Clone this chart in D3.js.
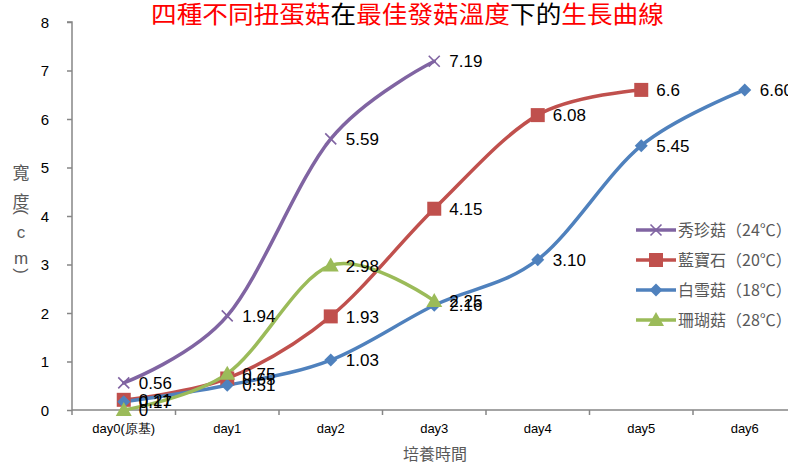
<!DOCTYPE html>
<html>
<head>
<meta charset="utf-8">
<script src="https://cdn.jsdelivr.net/npm/d3@7"></script>
<style>
  html, body { margin: 0; padding: 0; background: #fff; }
  svg { display: block; }
</style>
</head>
<body>
<svg id="chart" width="788" height="463"></svg>
<script>
// ---- data ----
const categories = ["day0(原基)", "day1", "day2", "day3", "day4", "day5", "day6"];
const yTicks = [0, 1, 2, 3, 4, 5, 6, 7, 8];
const seriesNames = ["秀珍菇（24℃）", "藍寶石（20℃）", "白雪菇（18℃）", "珊瑚菇（28℃）"];
const xiuzhen = [0.56, 1.94, 5.59, 7.19];
const lanbaoshi = [0.21, 0.65, 1.93, 4.15, 6.08, 6.6];
const baixue = [0.17, 0.51, 1.03, 2.16, 3.10, 5.45, 6.60];
const shanhu = [0, 0.75, 2.98, 2.25];
const labelsXiuzhen = ["0.56", "1.94", "5.59", "7.19"];
const labelsLanbaoshi = ["0.21", "0.65", "1.93", "4.15", "6.08", "6.6"];
const labelsBaixue = ["0.17", "0.51", "1.03", "2.16", "3.10", "5.45", "6.60"];
const labelsShanhu = ["0", "0.75", "2.98", "2.25"];

const colors = ["#8064A2", "#C0504D", "#4F81BD", "#9BBB59"];
const markers = ["x", "square", "diamond", "triangle"];
const seriesValues = [xiuzhen, lanbaoshi, baixue, shanhu];
const seriesLabels = [labelsXiuzhen, labelsLanbaoshi, labelsBaixue, labelsShanhu];

// ---- layout ----
const svg = d3.select("#chart");
const left = 72, bandW = 103.5, y0 = 410, y8 = 22;
const x = d3.scaleBand().domain(categories).range([left, left + bandW * categories.length]).paddingInner(0).paddingOuter(0);
const cx = d => x(d) + x.bandwidth() / 2;
const y = d3.scaleLinear().domain([0, 8]).range([y0, y8]);

const axisColor = "#868686";
const font = "'Liberation Sans', Arial, sans-serif";
const cjk = "'Noto Sans CJK TC', 'Noto Sans CJK SC', sans-serif";

// Title
const title = svg.append("text")
  .attr("x", 0).attr("y", 23)
  .attr("font-family", cjk).attr("font-size", 24).attr("font-weight", 400);
[["四種不同扭蛋菇", "#FF0000"], ["在", "#000"], ["最佳發菇溫度", "#FF0000"], ["下的", "#000"], ["生長曲線", "#FF0000"]]
  .forEach(([t, c]) => title.append("tspan").attr("fill", c).text(t));
const tw = title.node().getComputedTextLength();
const targetW = 513;
title.attr("transform", `translate(151,0) scale(${targetW / tw},1)`);

// Y axis
const yAxis = d3.axisLeft(y).tickValues(yTicks).tickSize(5).tickPadding(18).tickFormat(d3.format("d"));
const gy = svg.append("g").attr("transform", `translate(${left},0)`).call(yAxis);
gy.select(".domain").attr("stroke", axisColor).attr("stroke-width", 1.5).attr("d", `M-5,${y8}H0V${y0}`);
gy.selectAll(".tick line").attr("stroke", axisColor).attr("stroke-width", 1.5);
gy.selectAll(".tick text").attr("font-family", font).attr("font-size", 15).attr("fill", "#000").attr("dy", "0.35em");

// X axis
const xAxis = d3.axisBottom(x).tickSize(0).tickPadding(14);
const gx = svg.append("g").attr("transform", `translate(0,${y0})`).call(xAxis);
gx.select(".domain").attr("stroke", axisColor).attr("stroke-width", 1.5).attr("d", `M${left},0H788`);
gx.selectAll(".tick text").attr("font-family", font).attr("font-size", 13).attr("fill", "#000");
// boundary ticks
gx.selectAll(".bt").data(d3.range(categories.length + 1)).enter().append("line")
  .attr("x1", i => left + i * bandW).attr("x2", i => left + i * bandW)
  .attr("y1", 0).attr("y2", 5).attr("stroke", axisColor).attr("stroke-width", 1.5);

// Axis titles
svg.append("text").attr("x", 435).attr("y", 460).attr("text-anchor", "middle")
  .attr("font-family", cjk).attr("font-size", 16).attr("fill", "#595959").text("培養時間");

const yl = svg.append("g").attr("font-size", 17).attr("fill", "#595959");
[["寬", 171, 0], ["度", 200, 0], ["(", 212, 90], ["c", 232, 0], ["m", 258, 0], [")", 271, 90]].forEach(([t, yy, r]) => {
  yl.append("text").attr("x", 0).attr("y", 0)
    .attr("text-anchor", "middle").attr("dominant-baseline", "central")
    .attr("font-family", r || t === "c" || t === "m" ? font : cjk)
    .attr("transform", `translate(21,${yy}) rotate(${r})`).text(t);
});

// Lines
const line = d3.line().x((d, i) => cx(categories[i])).y(d => y(d)).curve(d3.curveCatmullRom.alpha(0));

function drawMarker(g, type, color, px, py) {
  if (type === "x") {
    const s = 5.5;
    g.append("path").attr("d", `M${px - s},${py - s}L${px + s},${py + s}M${px - s},${py + s}L${px + s},${py - s}`)
      .attr("stroke", color).attr("stroke-width", 1.6).attr("fill", "none");
  } else if (type === "square") {
    const s = 7;
    g.append("rect").attr("x", px - s).attr("y", py - s).attr("width", 2 * s).attr("height", 2 * s).attr("fill", color);
  } else if (type === "diamond") {
    const s = 6.5;
    g.append("path").attr("d", `M${px},${py - s}L${px + s},${py}L${px},${py + s}L${px - s},${py}Z`).attr("fill", color);
  } else if (type === "triangle") {
    g.append("path").attr("d", `M${px},${py - 8}L${px + 8},${py + 6}L${px - 8},${py + 6}Z`).attr("fill", color);
  }
}

const plot = svg.append("g");
seriesValues.forEach((vals, si) => {
  plot.append("path").datum(vals).attr("d", line).attr("fill", "none")
    .attr("stroke", colors[si]).attr("stroke-width", 3.5).attr("stroke-linecap", "round");
});
seriesValues.forEach((vals, si) => {
  const g = plot.append("g");
  vals.forEach((v, i) => drawMarker(g, markers[si], colors[si], cx(categories[i]), y(v)));
});
// Data labels
const lab = svg.append("g").attr("font-family", font).attr("font-size", 17).attr("fill", "#000");
seriesValues.forEach((vals, si) => {
  vals.forEach((v, i) => {
    lab.append("text").attr("x", cx(categories[i]) + 15).attr("y", y(v)).attr("dy", "0.36em")
      .text(seriesLabels[si][i]);
  });
});

// Legend
const lg = svg.append("g");
seriesNames.forEach((n, i) => {
  const ly = 230 + i * 30;
  lg.append("line").attr("x1", 636).attr("x2", 676).attr("y1", ly).attr("y2", ly)
    .attr("stroke", colors[i]).attr("stroke-width", 3.5);
  drawMarker(lg, markers[i], colors[i], 656, ly);
  lg.append("text").attr("x", 678).attr("y", ly).attr("dy", "0.36em")
    .attr("font-family", cjk).attr("font-size", 16).attr("fill", "#595959").text(n);
});
</script>
</body>
</html>
